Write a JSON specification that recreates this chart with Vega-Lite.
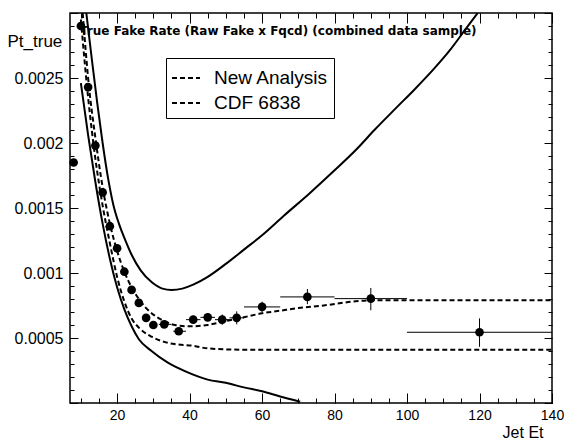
{
  "$schema": "https://vega.github.io/schema/vega-lite/v6.json",
  "autosize": "none",
  "width": 482,
  "height": 390,
  "padding": {"left": 70, "top": 13, "right": 16, "bottom": 38},
  "background": "white",
  "title": {"text": "True Fake Rate (Raw Fake x Fqcd) (combined data sample)", "anchor": "start", "frame": "group", "offset": -34, "dx": 10, "fontSize": 12, "fontWeight": "bold", "font": "DejaVu Sans", "color": "black", "baseline": "alphabetic"},
  "datasets": {
    "solid": [
      {"series": "upper", "x": 11.5, "y": 0.0030}, {"series": "upper", "x": 13, "y": 0.00265}, {"series": "upper", "x": 14.5, "y": 0.00231}, {"series": "upper", "x": 16, "y": 0.00200}, {"series": "upper", "x": 17.5, "y": 0.00173}, {"series": "upper", "x": 19, "y": 0.00152}, {"series": "upper", "x": 20.5, "y": 0.00138}, {"series": "upper", "x": 22, "y": 0.00127}, {"series": "upper", "x": 24, "y": 0.00114}, {"series": "upper", "x": 26.5, "y": 0.00102}, {"series": "upper", "x": 29.5, "y": 0.00093}, {"series": "upper", "x": 32.5, "y": 0.00088}, {"series": "upper", "x": 35, "y": 0.00087}, {"series": "upper", "x": 38, "y": 0.00088}, {"series": "upper", "x": 41, "y": 0.00091}, {"series": "upper", "x": 45, "y": 0.00097}, {"series": "upper", "x": 50, "y": 0.00107}, {"series": "upper", "x": 55, "y": 0.00118}, {"series": "upper", "x": 60, "y": 0.00129}, {"series": "upper", "x": 66, "y": 0.00144}, {"series": "upper", "x": 73, "y": 0.00161}, {"series": "upper", "x": 80, "y": 0.00179}, {"series": "upper", "x": 86, "y": 0.00195}, {"series": "upper", "x": 91, "y": 0.00210}, {"series": "upper", "x": 97, "y": 0.00227}, {"series": "upper", "x": 102, "y": 0.00241}, {"series": "upper", "x": 107.4, "y": 0.00257}, {"series": "upper", "x": 112, "y": 0.00272}, {"series": "upper", "x": 116, "y": 0.00287}, {"series": "upper", "x": 119.5, "y": 0.0030},
      {"series": "lower", "x": 10, "y": 0.00246}, {"series": "lower", "x": 12, "y": 0.00206}, {"series": "lower", "x": 14, "y": 0.00170}, {"series": "lower", "x": 16, "y": 0.00138}, {"series": "lower", "x": 18, "y": 0.00111}, {"series": "lower", "x": 20, "y": 0.00089}, {"series": "lower", "x": 22, "y": 0.00072}, {"series": "lower", "x": 24, "y": 0.00059}, {"series": "lower", "x": 26, "y": 0.00049}, {"series": "lower", "x": 29.5, "y": 0.00040}, {"series": "lower", "x": 34, "y": 0.00031}, {"series": "lower", "x": 38.7, "y": 0.000245}, {"series": "lower", "x": 45, "y": 0.00018}, {"series": "lower", "x": 50, "y": 0.000155}, {"series": "lower", "x": 55, "y": 0.00012}, {"series": "lower", "x": 60, "y": 0.00009}, {"series": "lower", "x": 65, "y": 0.00005}, {"series": "lower", "x": 70.5, "y": 0.00001}
    ],
    "dashed": [
      {"series": "New Analysis", "x": 10.5, "y": 0.0030}, {"series": "New Analysis", "x": 12, "y": 0.00250}, {"series": "New Analysis", "x": 14, "y": 0.00204}, {"series": "New Analysis", "x": 16, "y": 0.00166}, {"series": "New Analysis", "x": 18, "y": 0.00138}, {"series": "New Analysis", "x": 20, "y": 0.00117}, {"series": "New Analysis", "x": 22, "y": 0.00101}, {"series": "New Analysis", "x": 24, "y": 0.00089}, {"series": "New Analysis", "x": 26, "y": 0.00080}, {"series": "New Analysis", "x": 28, "y": 0.00073}, {"series": "New Analysis", "x": 30, "y": 0.00068}, {"series": "New Analysis", "x": 33, "y": 0.00063}, {"series": "New Analysis", "x": 36, "y": 0.00060}, {"series": "New Analysis", "x": 40, "y": 0.00059}, {"series": "New Analysis", "x": 45, "y": 0.00060}, {"series": "New Analysis", "x": 50, "y": 0.00063}, {"series": "New Analysis", "x": 55, "y": 0.00066}, {"series": "New Analysis", "x": 60, "y": 0.00069}, {"series": "New Analysis", "x": 65, "y": 0.00071}, {"series": "New Analysis", "x": 70, "y": 0.00073}, {"series": "New Analysis", "x": 77, "y": 0.00075}, {"series": "New Analysis", "x": 85, "y": 0.00078}, {"series": "New Analysis", "x": 90, "y": 0.00079}, {"series": "New Analysis", "x": 100, "y": 0.00079}, {"series": "New Analysis", "x": 120, "y": 0.00079}, {"series": "New Analysis", "x": 140, "y": 0.00079},
      {"series": "CDF 6838", "x": 10, "y": 0.00295}, {"series": "CDF 6838", "x": 12, "y": 0.00235}, {"series": "CDF 6838", "x": 14, "y": 0.00188}, {"series": "CDF 6838", "x": 16, "y": 0.00152}, {"series": "CDF 6838", "x": 18, "y": 0.00123}, {"series": "CDF 6838", "x": 20, "y": 0.00097}, {"series": "CDF 6838", "x": 22, "y": 0.00078}, {"series": "CDF 6838", "x": 24, "y": 0.00065}, {"series": "CDF 6838", "x": 26, "y": 0.00058}, {"series": "CDF 6838", "x": 29.5, "y": 0.00051}, {"series": "CDF 6838", "x": 33, "y": 0.00047}, {"series": "CDF 6838", "x": 36.8, "y": 0.00045}, {"series": "CDF 6838", "x": 41, "y": 0.00044}, {"series": "CDF 6838", "x": 45, "y": 0.00042}, {"series": "CDF 6838", "x": 55, "y": 0.00041}, {"series": "CDF 6838", "x": 80, "y": 0.00041}, {"series": "CDF 6838", "x": 110, "y": 0.00041}, {"series": "CDF 6838", "x": 140, "y": 0.00041}
    ],
    "points": [
      {"x": 8, "y": 0.00185, "xlo": 7.5, "xhi": 8.5, "ylo": 0.00185, "yhi": 0.00185},
      {"x": 10, "y": 0.00290, "xlo": 9, "xhi": 11, "ylo": 0.00288, "yhi": 0.00292},
      {"x": 12, "y": 0.00243, "xlo": 11, "xhi": 13, "ylo": 0.00241, "yhi": 0.00245},
      {"x": 14, "y": 0.00198, "xlo": 13, "xhi": 15, "ylo": 0.00196, "yhi": 0.00200},
      {"x": 16, "y": 0.00162, "xlo": 15, "xhi": 17, "ylo": 0.00160, "yhi": 0.00164},
      {"x": 18, "y": 0.00136, "xlo": 17, "xhi": 19, "ylo": 0.00134, "yhi": 0.00138},
      {"x": 20, "y": 0.00119, "xlo": 19, "xhi": 21, "ylo": 0.00117, "yhi": 0.00121},
      {"x": 22, "y": 0.00101, "xlo": 21, "xhi": 23, "ylo": 0.00099, "yhi": 0.00103},
      {"x": 24, "y": 0.00087, "xlo": 23, "xhi": 25, "ylo": 0.00085, "yhi": 0.00089},
      {"x": 26, "y": 0.00077, "xlo": 25, "xhi": 27, "ylo": 0.00075, "yhi": 0.00079},
      {"x": 28, "y": 0.000655, "xlo": 27, "xhi": 29, "ylo": 0.000635, "yhi": 0.000675},
      {"x": 30, "y": 0.000600, "xlo": 29, "xhi": 31, "ylo": 0.000580, "yhi": 0.000620},
      {"x": 33, "y": 0.000605, "xlo": 31.5, "xhi": 35, "ylo": 0.000585, "yhi": 0.000625},
      {"x": 37, "y": 0.000552, "xlo": 35.5, "xhi": 39, "ylo": 0.000530, "yhi": 0.000575},
      {"x": 41, "y": 0.000641, "xlo": 39, "xhi": 43, "ylo": 0.000611, "yhi": 0.000671},
      {"x": 45, "y": 0.000659, "xlo": 43, "xhi": 47, "ylo": 0.000629, "yhi": 0.000689},
      {"x": 49, "y": 0.000641, "xlo": 47, "xhi": 51, "ylo": 0.000601, "yhi": 0.000681},
      {"x": 53, "y": 0.000655, "xlo": 51, "xhi": 55, "ylo": 0.000605, "yhi": 0.000705},
      {"x": 60, "y": 0.000739, "xlo": 55, "xhi": 65, "ylo": 0.000699, "yhi": 0.000779},
      {"x": 72.5, "y": 0.000816, "xlo": 65, "xhi": 80, "ylo": 0.000760, "yhi": 0.000877},
      {"x": 90, "y": 0.000803, "xlo": 80, "xhi": 100, "ylo": 0.000713, "yhi": 0.000885},
      {"x": 120, "y": 0.000544, "xlo": 100, "xhi": 140, "ylo": 0.000432, "yhi": 0.000651}
    ]
  },
  "resolve": {"axis": {"x": "independent", "y": "independent"}},
  "layer": [
    {
      "data": {"name": "solid"},
      "mark": {"type": "line", "color": "black", "strokeWidth": 2, "interpolate": "monotone", "clip": true},
      "encoding": {
        "x": {"field": "x", "type": "quantitative", "scale": {"domain": [7, 140], "nice": false, "zero": false},
          "axis": {"orient": "bottom", "values": [20, 40, 60, 80, 100, 120, 140], "ticks": false, "labelFontSize": 14, "labelPadding": 5, "labelFlush": false, "title": "Jet Et", "titleFontSize": 16, "titleX": 473, "titleY": 34, "titleAlign": "right", "titleBaseline": "alphabetic"}},
        "y": {"field": "y", "type": "quantitative", "scale": {"domain": [0, 0.003], "nice": false, "zero": false},
          "axis": {"orient": "left", "values": [0.0005, 0.001, 0.0015, 0.002, 0.0025], "format": "~g", "ticks": false, "labelFontSize": 16, "labelPadding": 7, "title": "Pt_true", "titleAngle": 0, "titleAlign": "left", "titleBaseline": "alphabetic", "titleX": -63, "titleY": 33, "titleFontSize": 17}},
        "detail": {"field": "series", "type": "nominal"}
      }
    },
    {
      "data": {"name": "dashed"},
      "mark": {"type": "line", "strokeWidth": 2, "strokeDash": [5, 3], "interpolate": "monotone", "clip": true},
      "encoding": {
        "x": {"field": "x", "type": "quantitative", "scale": {"domain": [7, 140], "nice": false, "zero": false},
          "axis": {"orient": "bottom", "values": [20, 40, 60, 80, 100, 120, 140], "labels": false, "tickSize": -10, "title": null}},
        "y": {"field": "y", "type": "quantitative", "scale": {"domain": [0, 0.003], "nice": false, "zero": false},
          "axis": {"orient": "left", "values": [0, 0.0005, 0.001, 0.0015, 0.002, 0.0025, 0.003], "labels": false, "tickSize": -8, "title": null}},
        "color": {"field": "series", "type": "nominal", "scale": {"domain": ["New Analysis", "CDF 6838"], "range": ["black", "black"]},
          "legend": {"orient": "none", "legendX": 96, "legendY": 45, "title": null, "symbolType": "stroke", "symbolDash": [5, 3], "symbolStrokeWidth": 2, "symbolSize": 784, "symbolStrokeColor": "black", "labelFontSize": 19, "labelFont": "Liberation Sans", "labelColor": "black", "labelOffset": 13, "strokeColor": "black", "fillColor": "white", "padding": 5, "rowPadding": -5}}
      }
    },
    {
      "data": {"name": "points"},
      "mark": {"type": "rule", "color": "black", "strokeWidth": 1},
      "encoding": {
        "x": {"field": "xlo", "type": "quantitative", "scale": {"domain": [7, 140], "nice": false, "zero": false},
          "axis": {"orient": "bottom", "values": [10, 15, 20, 25, 30, 35, 40, 45, 50, 55, 60, 65, 70, 75, 80, 85, 90, 95, 100, 105, 110, 115, 120, 125, 130, 135, 140], "labels": false, "tickSize": -5, "title": null}},
        "x2": {"field": "xhi"},
        "y": {"field": "y", "type": "quantitative", "scale": {"domain": [0, 0.003], "nice": false, "zero": false},
          "axis": {"orient": "left", "values": [0, 0.0001, 0.0002, 0.0003, 0.0004, 0.0005, 0.0006, 0.0007, 0.0008, 0.0009, 0.001, 0.0011, 0.0012, 0.0013, 0.0014, 0.0015, 0.0016, 0.0017, 0.0018, 0.0019, 0.002, 0.0021, 0.0022, 0.0023, 0.0024, 0.0025, 0.0026, 0.0027, 0.0028, 0.0029, 0.003], "labels": false, "tickSize": -4, "title": null}}
      }
    },
    {
      "data": {"name": "points"},
      "mark": {"type": "rule", "color": "black", "strokeWidth": 1},
      "encoding": {
        "x": {"field": "x", "type": "quantitative", "scale": {"domain": [7, 140], "nice": false, "zero": false},
          "axis": {"orient": "top", "values": [20, 40, 60, 80, 100, 120, 140], "labels": false, "tickSize": -10, "title": null}},
        "y": {"field": "ylo", "type": "quantitative", "scale": {"domain": [0, 0.003], "nice": false, "zero": false},
          "axis": {"orient": "right", "values": [0, 0.0005, 0.001, 0.0015, 0.002, 0.0025, 0.003], "labels": false, "tickSize": -8, "title": null}},
        "y2": {"field": "yhi"}
      }
    },
    {
      "data": {"name": "points"},
      "mark": {"type": "point", "filled": true, "color": "black", "size": 75, "opacity": 1},
      "encoding": {
        "x": {"field": "x", "type": "quantitative", "scale": {"domain": [7, 140], "nice": false, "zero": false},
          "axis": {"orient": "top", "values": [10, 15, 20, 25, 30, 35, 40, 45, 50, 55, 60, 65, 70, 75, 80, 85, 90, 95, 100, 105, 110, 115, 120, 125, 130, 135, 140], "labels": false, "tickSize": -5, "title": null}},
        "y": {"field": "y", "type": "quantitative", "scale": {"domain": [0, 0.003], "nice": false, "zero": false},
          "axis": {"orient": "right", "values": [0, 0.0001, 0.0002, 0.0003, 0.0004, 0.0005, 0.0006, 0.0007, 0.0008, 0.0009, 0.001, 0.0011, 0.0012, 0.0013, 0.0014, 0.0015, 0.0016, 0.0017, 0.0018, 0.0019, 0.002, 0.0021, 0.0022, 0.0023, 0.0024, 0.0025, 0.0026, 0.0027, 0.0028, 0.0029, 0.003], "labels": false, "tickSize": -4, "title": null}}
      }
    }
  ],
  "config": {
    "view": {"stroke": "black", "strokeWidth": 1.5},
    "axis": {"grid": false, "domain": false, "labelFont": "Liberation Sans", "titleFont": "Liberation Sans", "labelColor": "black", "tickColor": "black", "titleColor": "black", "titleFontWeight": "normal", "tickWidth": 1}
  }
}
